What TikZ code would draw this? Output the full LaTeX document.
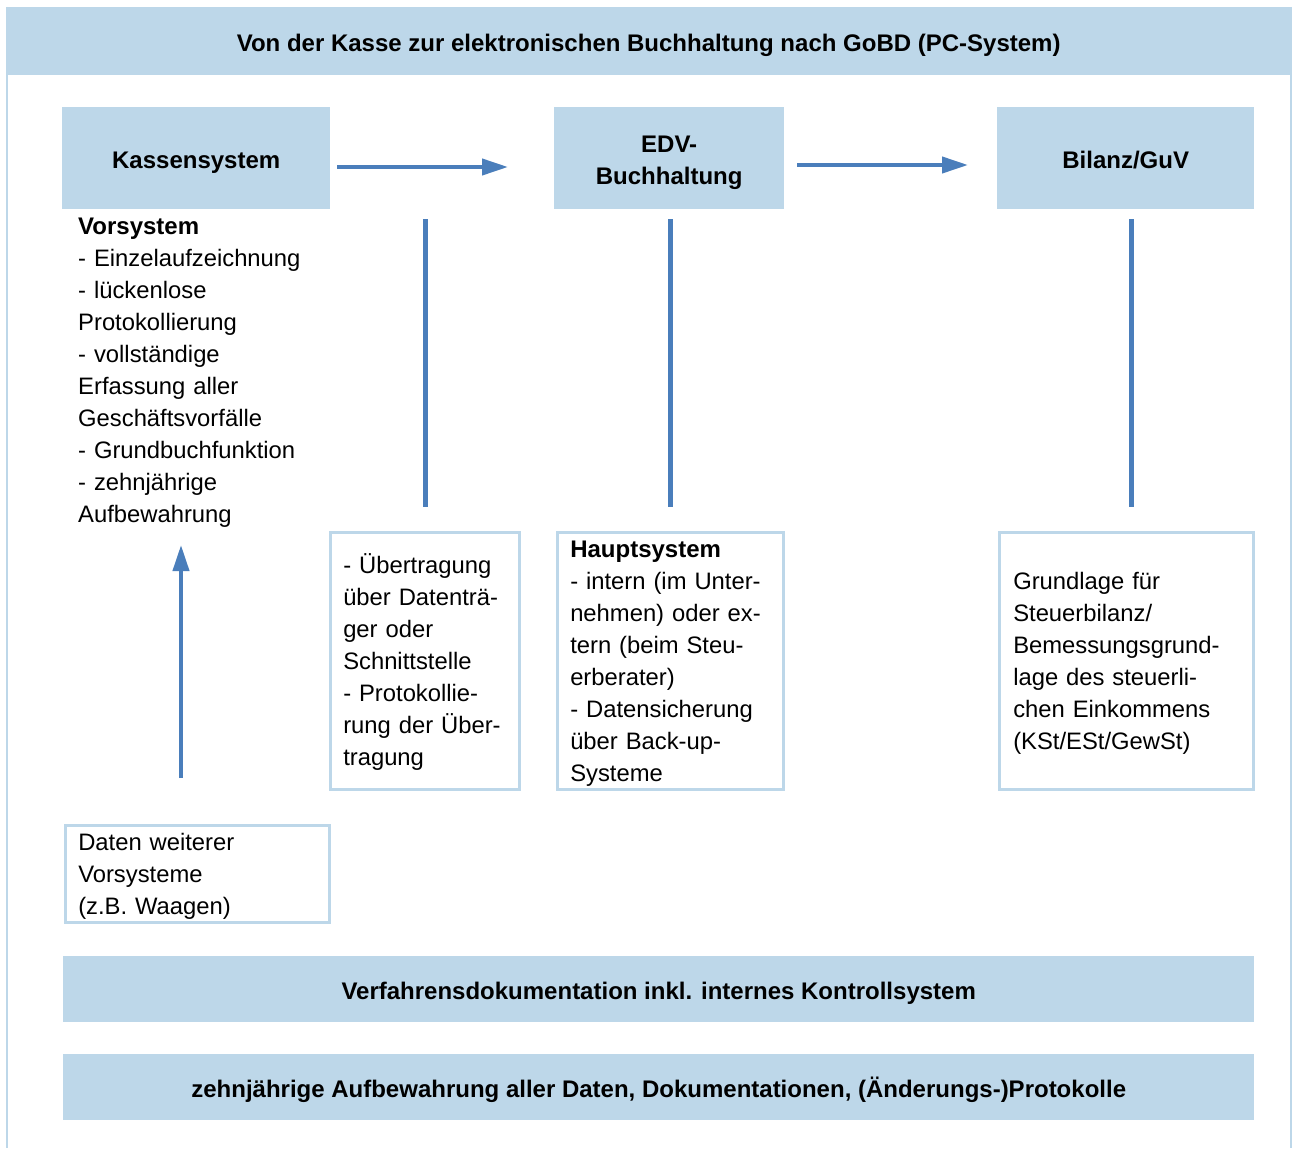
\documentclass[tikz,border=0pt]{standalone}
\usepackage{fontspec}
\setmainfont{Liberation Sans}
\usetikzlibrary{arrows.meta}
\definecolor{lb}{RGB}{189,215,233}
\definecolor{ab}{RGB}{74,126,187}
\begin{document}
\begin{tikzpicture}[x=1pt,y=-1pt,
  every node/.style={font=\fontsize{23.8}{32}\selectfont},
  band/.style={fill=lb, draw=none, inner sep=0pt, align=center, text height=20pt, text depth=0pt,
    font=\fontsize{24}{32}\selectfont\bfseries},
  framebox/.style={draw=lb, line width=2.5pt, fill=white, inner xsep=13pt, inner ysep=0pt, align=left,
    anchor=north west, text height=23pt},
  plaintext/.style={inner sep=0pt, align=left, anchor=base west},
  flow/.style={draw=ab, line width=4pt, -{Triangle[length=26pt,width=16pt]}},
  vline/.style={draw=ab, line width=5pt}
]
\useasboundingbox (0,0) rectangle (1292,1148);
% outer frame
\draw[lb, line width=2pt] (7,7) -- (7,1148);
\draw[lb, line width=2pt] (1290.5,7) -- (1290.5,1148);
% title band
\node[band, minimum width=1285, minimum height=68, anchor=north west] (title) at (6,7)
  {Von der Kasse zur elektronischen Buchhaltung nach GoBD (PC-System)};
% header boxes
\node[band, minimum width=268, minimum height=102, anchor=north west] (kasse) at (62,107) {Kassensystem};
\node[band, text width=230pt, text depth=32pt, minimum height=102, anchor=north west] (edv) at (554,107) {EDV-\\Buchhaltung};
\node[band, minimum width=257, minimum height=102, anchor=north west] (bilanz) at (997,107) {Bilanz/GuV};
% Vorsystem text
\node[plaintext, text width=250pt] (vorsys) at (78,234)
  {{\fontsize{24}{32}\selectfont\bfseries Vorsystem}\\
   - Einzelaufzeichnung\\
   - lückenlose\\
   Protokollierung\\
   - vollständige\\
   Erfassung aller\\
   Geschäftsvorfälle\\
   - Grundbuchfunktion\\
   - zehnjährige\\
   Aufbewahrung};
% lower boxes
\node[framebox, text width=163pt, minimum height=257pt] (uebertr) at (329,531)
  {- Übertragung\\
   über Datenträ-\\
   ger oder\\
   Schnittstelle\\
   - Protokollie-\\
   rung der Über-\\
   tragung};
\node[framebox, text width=200pt, minimum height=257pt] (haupt) at (556,531)
  {{\fontsize{24}{32}\selectfont\bfseries Hauptsystem}\\
   - intern (im Unter-\\
   nehmen) oder ex-\\
   tern (beim Steu-\\
   erberater)\\
   - Datensicherung\\
   über Back-up-\\
   Systeme};
\node[framebox, inner xsep=14pt, text width=226pt, minimum height=257pt] (grund) at (998,531)
  {Grundlage für\\
   Steuerbilanz/\\
   Bemessungsgrund-\\
   lage des steuerli-\\
   chen Einkommens\\
   (KSt/ESt/GewSt)};
\node[framebox, text width=238pt, minimum height=97pt] (daten) at (64,824)
  {Daten weiterer\\
   Vorsysteme\\
   (z.B. Waagen)};
% bottom bands
\node[band, minimum width=1191, minimum height=66, anchor=north west] (verf) at (63,956)
  {Verfahrensdokumentation inkl. internes Kontrollsystem};
\node[band, minimum width=1191, minimum height=66, anchor=north west] (aufb) at (63,1054)
  {zehnjährige Aufbewahrung aller Daten, Dokumentationen, (Änderungs-)Protokolle};
% connector end points
\coordinate (a1s) at (337,167);
\coordinate (a1e) at (508,167);
\coordinate (a2s) at (797,165);
\coordinate (a2e) at (968,165);
\coordinate (a3s) at (181,778);
\coordinate (a3e) at (181,545);
\coordinate (v1s) at (425,219);
\coordinate (v1e) at (425,507);
\coordinate (v2s) at (670,219);
\coordinate (v2e) at (670,507);
\coordinate (v3s) at (1131,219);
\coordinate (v3e) at (1131,507);
% arrows
\draw[flow] (a1s) -- (a1e);
\draw[flow] (a2s) -- (a2e);
\draw[flow] (a3s) -- (a3e);
\draw[vline] (v1s) -- (v1e);
\draw[vline] (v2s) -- (v2e);
\draw[vline] (v3s) -- (v3e);
\end{tikzpicture}
\end{document}
